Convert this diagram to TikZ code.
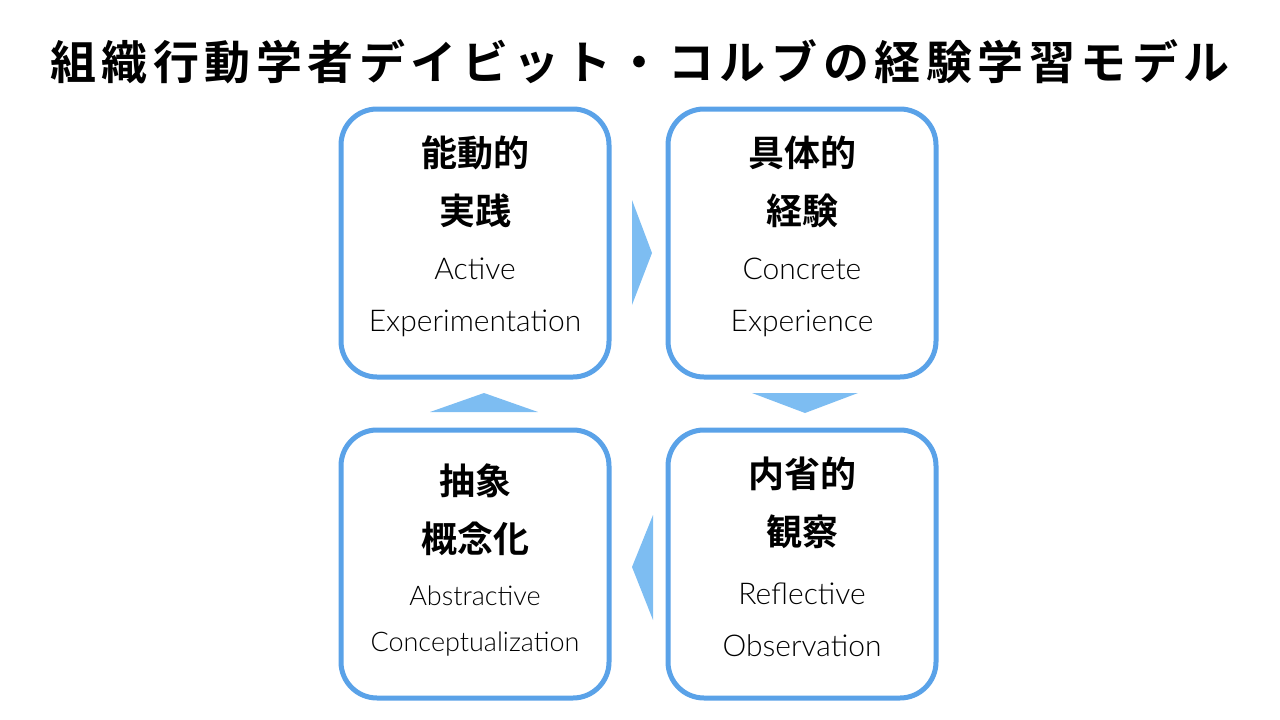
\documentclass[tikz,border=0pt]{standalone}
\usepackage{fontspec}
\setmainfont{Lato Light}
\newfontfamily\jpfont{Noto Sans CJK JP}[BoldFont={* Bold}]
\newfontfamily\titlefont{Noto Sans CJK JP Bold}[LetterSpace=12]
\usetikzlibrary{positioning}
\definecolor{boxblue}{HTML}{5AA2E8}
\definecolor{arrowblue}{HTML}{7DBDF2}
\tikzset{
  stagebox/.style={draw=boxblue, line width=5pt, rounded corners=36pt,
    minimum width=268pt, minimum height=268pt, fill=white},
  jptext/.style={font=\jpfont\bfseries\fontsize{36}{58}\selectfont, align=center},
  entext/.style={font=\fontsize{30}{52}\selectfont, align=center},
  flow/.style={fill=arrowblue, draw=none}
}
\begin{document}
\begin{tikzpicture}[x=1pt,y=-1pt]
  \useasboundingbox (0,0) rectangle (1280,720);
  % Titel
  \node[font=\titlefont\fontsize{46}{50}\selectfont] (title) at (640,62)
    {組織行動学者デイビット・コルブの経験学習モデル};

  % Kasten
  \node[stagebox] (active) at (475,243) {};
  \node[stagebox] (concrete) at (802,243) {};
  \node[stagebox] (abstract) at (475,564) {};
  \node[stagebox] (reflect) at (802,564) {};

  % Texte
  \node[jptext] at (475,182) {能動的\\実践};
  \node[entext] at (475,297) {Active\\Experimentation};
  \node[jptext] at (802,182) {具体的\\経験};
  \node[entext] at (802,297) {Concrete\\Experience};
  \node[jptext] at (475,510) {抽象\\概念化};
  \node[entext, font=\fontsize{27}{46}\selectfont] at (475,621) {Abstractive\\Conceptualization};
  \node[jptext] at (802,503) {内省的\\観察};
  \node[entext] at (802,620) {Reflective\\Observation};

  % Pfeile
  \fill[flow] (632,200) -- ++(0,105) -- ++(20,-52) -- cycle;
  \fill[flow] (752,393) -- (858,393) -- (805,413) -- cycle;
  \fill[flow] (653,515) -- (653,620) -- (632,567) -- cycle;
  \fill[flow] (430,412) -- (538,412) -- (484,393) -- cycle;
\end{tikzpicture}
\end{document}
